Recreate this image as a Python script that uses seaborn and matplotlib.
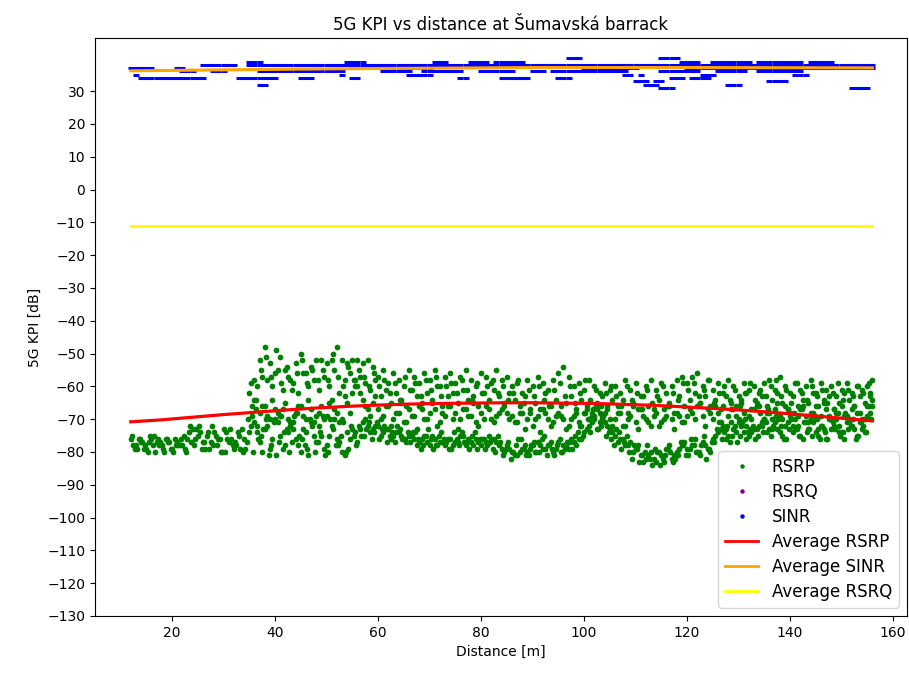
import numpy as np
import matplotlib
matplotlib.use("Agg")
import matplotlib.pyplot as plt
from matplotlib.lines import Line2D
import seaborn as sns

# ---------------- data ----------------
# RSRP [dBm]: several interleaved measurement tracks, each sampled every 1 m from its start distance
# lower band tracks
rsrp_l1_start = 12.0
rsrp_l1 = [-76, -78, -77, -79, -76, -77, -78, -76, -79, -77, -78, -76,
           -73, -75, -77, -74, -78, -76, -73, -77, -79, -75, -76,
           -74, -71, -77, -73, -79, -70, -75, -78, -72, -76, -80, -74, -71, -77,
           -75, -78, -72, -76, -80, -74, -73, -77,
           -71, -72, -73, -72, -74, -73, -75, -74, -76, -75,
           -76, -77, -75, -78, -76, -77, -78, -76, -77, -75, -78, -77, -76, -78, -77, -76,
           -77, -79, -78, -80, -81, -79, -80, -78, -77, -79, -78, -80, -77, -78, -79, -77, -76,
           -74, -72, -70, -68, -71, -73,
           -75, -76, -78, -77,
           -79, -81, -82, -80, -83, -81, -79, -82, -80, -78, -79,
           -78, -80, -77, -79, -76,
           -74, -72, -75, -73, -71, -74, -75, -73, -72,
           -70, -73, -71, -74, -72, -69, -73, -75, -71, -70, -74, -72, -76, -73, -70, -74,
           -71, -72, -75, -73, -69, -66]
rsrp_l2_start = 12.5
rsrp_l2 = [-78, -76, -79, -77, -75, -78, -80, -77, -76, -78, -79,
           -72, -76, -74, -79, -77, -75, -80, -74, -76, -78, -73,
           -77, -69, -74, -80, -72, -76, -68, -79, -74, -71, -78, -73, -81, -75,
           -72, -79, -75, -70, -77, -81, -76, -74,
           -73, -70, -74, -72, -75, -73, -76, -74, -75, -77,
           -75, -78, -76, -77, -75, -78, -77, -76, -78, -77, -75, -76, -78, -77, -76, -75,
           -76, -78, -80, -79, -81, -80, -78, -79, -80, -78, -79, -77, -79, -80, -78, -76, -78,
           -76, -73, -69, -67, -70, -72,
           -74, -77, -76, -78,
           -80, -78, -83, -81, -82, -80, -83, -78, -81, -79, -77,
           -79, -76, -81, -78, -80,
           -75, -73, -76, -71, -74, -72, -76, -74, -73,
           -72, -74, -70, -73, -75, -71, -74, -72, -76, -73, -71, -75, -73, -69, -72, -74,
           -76, -70, -73, -71, -74, -68]
rsrp_l3_start = 12.25
rsrp_l3 = [-75, -79, -77, -80, -78, -76, -79, -77, -80, -78, -75,
           -74, -78, -72, -77, -79, -74, -76, -80, -73, -77, -79,
           -79, -72, -67, -75, -70, -78, -81, -69, -73, -77, -68, -76, -79, -72,
           -77, -69, -80, -73, -78, -71, -79, -75,
           -72, -75, -71, -74, -76, -72, -75, -77, -73, -76,
           -77, -74, -79, -75, -76, -78, -74, -77, -79, -76, -74, -77, -75, -79, -76, -78,
           -79, -75, -81, -77, -80, -76, -79, -81, -77, -80, -75, -78, -81, -76, -79, -77, -75,
           -72, -68, -74, -66, -72, -75,
           -76, -73, -79, -75,
           -82, -79, -81, -78, -84, -80, -82, -79, -83, -81, -78,
           -81, -78, -80, -75, -79,
           -77, -71, -74, -77, -72, -75, -70, -73, -76,
           -68, -71, -75, -69, -72, -76, -70, -73, -67, -74, -75, -70, -72, -76, -71, -68,
           -74, -73, -70, -75, -72, -66]
rsrp_l4_start = 12.75
rsrp_l4 = [-79, -76, -78, -75, -80, -77, -76, -79, -78, -76, -80,
           -77, -73, -79, -75, -72, -78, -80, -76, -78, -74, -80,
           -70, -80, -76, -73, -81, -71, -77, -74, -80, -69, -75, -78, -70, -80,
           -74, -81, -70, -78, -75, -80, -72, -78,
           -75, -73, -76, -71, -73, -77, -74, -72, -76, -74,
           -74, -76, -78, -73, -79, -75, -76, -79, -74, -78, -77, -79, -74, -76, -79, -77,
           -80, -77, -79, -82, -78, -76, -81, -78, -80, -76, -81, -79, -78, -80, -77, -79, -74,
           -75, -70, -67, -73, -69, -74,
           -78, -74, -77, -80,
           -78, -83, -80, -82, -79, -84, -81, -80, -82, -77, -81,
           -76, -80, -78, -82, -77,
           -73, -76, -72, -75, -77, -71, -74, -72, -75,
           -74, -67, -72, -70, -76, -73, -68, -75, -71, -73, -69, -76, -74, -70, -73, -75,
           -68, -72, -76, -71, -74, -70]
# upper band tracks
rsrp_u1_start = 35.0
rsrp_u1 = [-62, -58, -52,
           -48, -53, -56, -51, -55, -58, -53, -50, -56, -54, -52,
           -52, -53, -52, -48, -52, -53, -52, -52, -53, -52, -54,
           -57, -55, -59, -56, -58, -60, -55, -57, -59, -56, -58, -55, -60, -57, -56, -59,
           -57, -55, -58, -60, -56, -57, -59, -55, -58, -57,
           -60, -59, -62, -58, -60, -57, -59, -61, -58, -56, -54, -57, -60, -59, -61, -58,
           -60, -62, -59, -61,
           -60, -62, -58, -61, -59, -63, -60, -58, -61, -59, -62, -60, -58, -57, -59,
           -57, -56, -60, -58, -61, -59, -62, -58, -60, -63, -59, -61, -60, -62, -59, -58,
           -61, -57, -60, -62, -59, -61, -60, -58, -62, -59, -61, -60, -63, -61, -59, -62,
           -60, -61, -60, -58]
rsrp_u2_start = 35.5
rsrp_u2 = [-66, -60, -57,
           -58, -60, -55, -61, -57, -59, -62, -56, -60, -58, -61,
           -57, -60, -55, -62, -58, -56, -60, -57, -59, -61, -58,
           -63, -61, -65, -62, -64, -66, -61, -63, -65, -62, -64, -60, -66, -63, -62, -65,
           -61, -64, -63, -66, -62, -64, -61, -63, -65, -62,
           -64, -66, -63, -68, -65, -67, -62, -66, -64, -69, -65, -63, -67, -64, -66, -68,
           -65, -63, -67, -64,
           -66, -64, -68, -65, -67, -63, -66, -69, -64, -67, -65, -68, -63, -66, -64,
           -62, -65, -63, -66, -64, -67, -63, -65, -66, -64, -62, -67, -65, -63, -66, -64,
           -62, -65, -67, -63, -66, -64, -65, -62, -66, -64, -63, -67, -65, -62, -64, -66,
           -63, -65, -62]
rsrp_u3_start = 35.25
rsrp_u3 = [-59, -64, -55,
           -51, -57, -49, -59, -54, -61, -56, -52, -59, -55, -58,
           -55, -58, -50, -57, -60, -54, -58, -55, -57, -60, -56,
           -60, -58, -62, -59, -64, -57, -61, -59, -63, -58, -61, -57, -63, -60, -59, -62,
           -58, -61, -64, -59, -62, -60, -58, -62, -60, -64,
           -62, -58, -65, -61, -63, -60, -64, -66, -61, -59, -63, -60, -65, -62, -58, -64,
           -61, -66, -62, -60,
           -63, -66, -60, -64, -62, -67, -61, -65, -63, -60, -66, -62, -64, -59, -61,
           -59, -63, -61, -58, -65, -62, -60, -64, -61, -66, -62, -59, -64, -61, -63, -60,
           -58, -63, -61, -65, -59, -62, -64, -60, -63, -61, -65, -62, -59, -64, -61, -63,
           -60, -62, -59]
# middle band tracks
rsrp_m1_start = 36.0
rsrp_m1 = [-64, -68, -66, -70, -67, -69, -65, -71, -68, -66, -70, -67, -69,
           -66, -69, -64, -68, -70, -65, -62, -60, -64, -67, -65,
           -67, -69, -66, -70, -68, -71, -67, -69, -66, -70, -68, -67, -71, -69, -66, -68,
           -70, -67, -69, -71, -68, -66, -70, -69, -67, -68,
           -69, -71, -68, -70, -72, -69, -67, -70, -71, -68, -70, -72, -69, -71, -68, -70,
           -69, -71, -68, -70,
           -70, -68, -72, -69, -71, -67, -70, -72, -68, -71, -69, -70, -68, -71, -69,
           -68, -66, -69, -67, -70, -68, -66, -69, -67, -70, -68, -69, -67, -66, -70, -68,
           -67, -69, -66, -68, -70, -67, -69, -68, -66, -69, -67, -70, -68, -66, -69, -67,
           -68, -70, -66, -64]
rsrp_m2_start = 36.5
rsrp_m2 = [-72, -66, -69, -64, -71, -67, -70, -73, -66, -69, -64, -71, -68,
           -70, -65, -67, -71, -63, -68, -58, -62, -66, -69, -63,
           -70, -66, -72, -68, -65, -71, -69, -73, -67, -70, -65, -72, -68, -66, -70, -73,
           -67, -69, -65, -72, -70, -67, -71, -68, -66, -70,
           -71, -68, -73, -67, -70, -74, -68, -72, -69, -66, -73, -70, -68, -72, -67, -71,
           -73, -69, -66, -72,
           -68, -72, -70, -66, -73, -69, -71, -67, -72, -70, -66, -73, -69, -71, -67,
           -70, -65, -72, -68, -66, -71, -73, -67, -69, -65, -72, -70, -66, -71, -68, -73,
           -65, -70, -67, -72, -69, -66, -71, -68, -73, -65, -70, -67, -72, -69, -71, -66,
           -68, -70, -63]

# RSRQ [dB] samples (hidden under the average line)
rsrq_dist = [12, 20, 28, 36, 44, 52, 60, 68, 76, 84, 92, 100, 108, 116, 124, 132, 140, 148, 156]
rsrq_vals = [-11, -11, -11, -11, -11, -11, -11, -11, -11, -11, -11, -11, -11, -11, -11, -11, -11, -11, -11]

# SINR [dB]: run-length encoded samples (start distance, end distance, level), 1 m sampling
sinr_run_start = [12, 13, 14, 20, 21, 22, 26, 28, 33, 37, 35, 35, 37, 45, 53, 54, 55, 61, 66, 69, 71,
                  74, 76, 78, 80, 83, 84, 90, 95, 94, 97, 108, 111, 110, 112, 114, 115, 119, 115,
                  115, 117, 121, 123, 125, 126, 128, 129, 134, 134, 136, 141, 144, 152,
                  60, 100, 120]
sinr_run_end = [16, 13, 19, 26, 22, 24, 32, 30, 40, 38, 37, 156, 53, 47, 53, 57, 56, 66, 70, 74, 73,
                76, 77, 81, 86, 88, 89, 92, 97, 108, 99, 109, 111, 112, 114, 115, 118, 122, 117,
                122, 119, 124, 125, 128, 131, 130, 132, 142, 142, 139, 143, 148, 155,
                70, 110, 156]
sinr_run_level = [37, 35, 34, 34, 37, 36, 38, 36, 34, 32, 39, 38, 36, 34, 35, 39, 34, 36, 35, 36, 39,
                  36, 34, 39, 36, 39, 34, 36, 34, 36, 40, 35, 35, 33, 32, 33, 40, 39, 31,
                  36, 34, 34, 35, 39, 36, 32, 39, 39, 36, 33, 35, 39, 31,
                  37, 37, 37]

# Average (trend) curves
avg_rsrp_dist = [12, 18, 24, 30, 36, 42, 48, 54, 60, 66, 72, 78, 84, 90, 96, 102, 108, 114,
                 120, 126, 132, 138, 144, 150, 156]
avg_rsrp_vals = [-70.8, -70.2, -69.4, -68.6, -67.9, -67.2, -66.6, -66.1, -65.7, -65.4, -65.2,
                 -65.1, -65.0, -65.0, -65.1, -65.2, -65.5, -65.8, -66.3, -66.8, -67.4, -68.1,
                 -68.9, -69.7, -70.5]
avg_sinr_dist = [12, 30, 50, 70, 90, 120, 156]
avg_sinr_vals = [36.2, 36.5, 36.8, 37.0, 37.2, 37.2, 37.1]
avg_rsrq_dist = [12, 156]
avg_rsrq_vals = [-11.2, -11.2]

yticks = list(range(-130, 31, 10))

# ---------------- build samples ----------------
rsrp_x, rsrp_y = [], []
for start, vals in [(rsrp_l1_start, rsrp_l1), (rsrp_l2_start, rsrp_l2), (rsrp_l3_start, rsrp_l3),
                    (rsrp_l4_start, rsrp_l4), (rsrp_u1_start, rsrp_u1), (rsrp_u2_start, rsrp_u2),
                    (rsrp_u3_start, rsrp_u3), (rsrp_m1_start, rsrp_m1), (rsrp_m2_start, rsrp_m2)]:
    rsrp_x.extend(start + np.arange(len(vals)))
    rsrp_y.extend(vals)

sinr_x, sinr_y = [], []
for s, e, lv in zip(sinr_run_start, sinr_run_end, sinr_run_level):
    for d in range(s, e + 1):
        sinr_x.append(d)
        sinr_y.append(lv)

# ---------------- plot ----------------
fig, ax = plt.subplots(figsize=(9.09, 6.73), dpi=100)
fig.subplots_adjust(left=0.1045, right=0.9978, top=0.9435, bottom=0.0847)

sns.scatterplot(x=rsrp_x, y=rsrp_y, color="green", s=17, linewidth=0, ax=ax, legend=False)
sns.scatterplot(x=rsrq_dist, y=rsrq_vals, color="purple", s=3, linewidth=0, ax=ax, legend=False)
ax.scatter(sinr_x, sinr_y, marker="_", s=17, linewidths=2.2, color="blue")
sns.lineplot(x=avg_rsrp_dist, y=avg_rsrp_vals, color="red", linewidth=2.3, ax=ax, legend=False)
sns.lineplot(x=avg_sinr_dist, y=avg_sinr_vals, color="orange", linewidth=2.2, ax=ax, legend=False)
sns.lineplot(x=avg_rsrq_dist, y=avg_rsrq_vals, color="yellow", linewidth=2.2, ax=ax, legend=False)

ax.set_xlim(5.05, 162.7)
ax.set_ylim(-130, 46.2)
ax.set_yticks(yticks)
ax.set_xlabel("Distance [m]")
ax.set_ylabel("5G KPI [dB]")
ax.set_title("5G KPI vs distance at Šumavská barrack")

handles = [
    Line2D([], [], marker="o", ls="", color="green", markersize=2.2),
    Line2D([], [], marker="o", ls="", color="purple", markersize=2.2),
    Line2D([], [], marker="o", ls="", color="blue", markersize=2.2),
    Line2D([], [], color="red", lw=2),
    Line2D([], [], color="orange", lw=2),
    Line2D([], [], color="yellow", lw=2),
]
labels = ["RSRP", "RSRQ", "SINR", "Average RSRP", "Average SINR", "Average RSRQ"]
ax.legend(handles, labels, loc="lower right", fontsize=12, labelspacing=0.42)

fig.savefig("out.png", dpi=100)
